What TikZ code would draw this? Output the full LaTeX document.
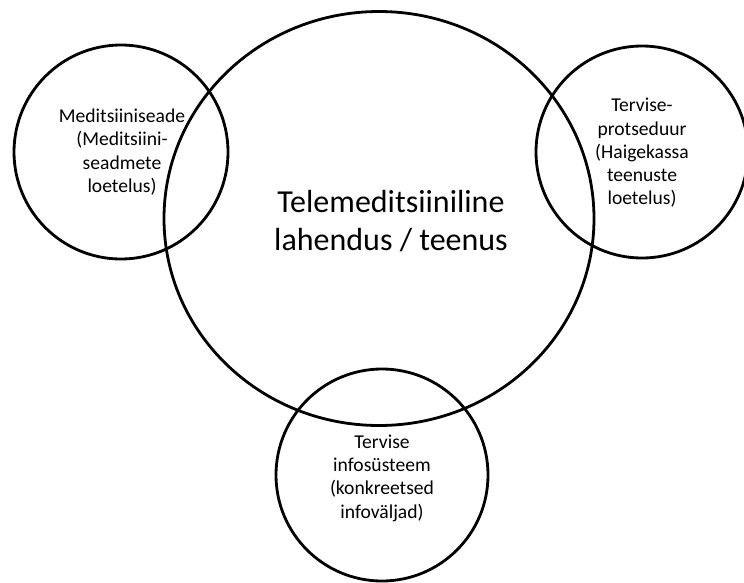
\documentclass[tikz,border=0pt]{standalone}
\usepackage{fontspec}
\setmainfont{Carlito}
\usetikzlibrary{shapes.geometric}
\begin{document}
\begin{tikzpicture}[x=1pt,y=-1pt,
  ring/.style={draw=black, line width=2.8pt, circle, inner sep=0pt},
  smalltext/.style={align=center, inner sep=0pt, font=\fontsize{19.6}{23.3}\selectfont},
  bigtext/.style={align=center, inner sep=0pt, font=\fontsize{32}{38}\selectfont}]
\useasboundingbox (0,0) rectangle (744,582);
\begin{scope}
  \clip (0,0) rectangle (744,582);
  % the four overlapping areas
  \node[ring, ellipse, minimum width=430pt, minimum height=414pt] (main) at (379,218.5) {};
  \node[ring, minimum size=214pt] (device) at (121,152) {};
  \node[ring, minimum size=212pt] (procedure) at (642,152) {};
  \node[ring, minimum size=212pt] (infosys) at (382,475) {};
\end{scope}
% labels
\node[bigtext] (mainlabel) at (391,221) {Telemeditsiiniline\\lahendus / teenus};
\node[smalltext] (devicelabel) at (122,152) {Meditsiiniseade\\(Meditsiini-\\seadmete\\loetelus)};
\node[smalltext] (procedurelabel) at (642,153) {Tervise-\\protseduur\\(Haigekassa\\teenuste\\loetelus)};
\node[smalltext] (infosyslabel) at (382,478) {Tervise\\infosüsteem\\(konkreetsed\\infoväljad)};
\end{tikzpicture}
\end{document}
